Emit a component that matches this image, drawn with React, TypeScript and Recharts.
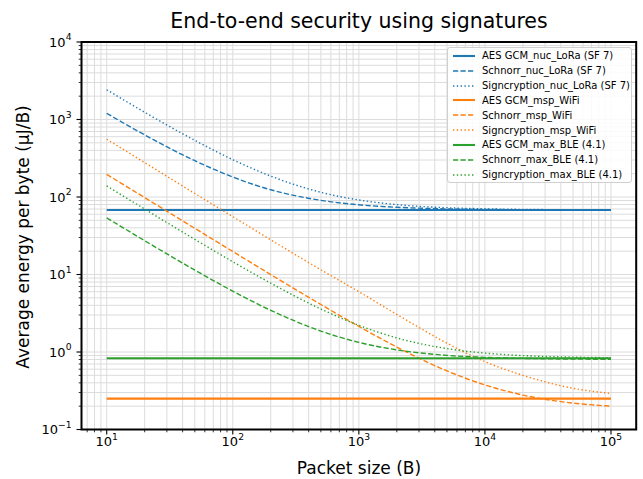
import { LineChart, Line, XAxis, YAxis, CartesianGrid, Legend, ReferenceArea } from 'recharts'

const FONT = '"DejaVu Sans", Verdana, sans-serif'
const BLUE = '#1f77b4'
const ORANGE = '#ff7f0e'
const GREEN = '#2ca02c'

// packet sizes (B) the curves were read at
const packetSizes = [10, 20, 50, 100, 200, 500, 1000, 2000, 5000, 10000, 20000, 50000, 100000]

// average energy per byte (uJ/B)
const aesNucLora = [68, 68, 68, 68, 68, 68, 68, 68, 68, 68, 68, 68, 68]
const schnorrNucLora = [1200, 633, 294, 181, 124, 90.6, 79.3, 73.7, 70.3, 69.1, 68.6, 68.2, 68.1]
const signNucLora = [2420, 1240, 538, 303, 186, 115, 91.5, 79.8, 72.7, 70.4, 69.2, 68.5, 68.2]
const aesMspWifi = [0.25, 0.25, 0.25, 0.25, 0.25, 0.25, 0.25, 0.25, 0.25, 0.25, 0.25, 0.25, 0.25]
const schnorrMspWifi = [196, 98.2, 39.4, 19.8, 9.98, 4.1, 2.14, 1.16, 0.57, 0.376, 0.278, 0.219, 0.2]
const signMspWifi = [556, 278, 111, 55.8, 28.0, 11.5, 6.0, 3.05, 1.3, 0.75, 0.5, 0.34, 0.292]
const aesMaxBle = [0.83, 0.83, 0.83, 0.83, 0.83, 0.83, 0.83, 0.83, 0.83, 0.83, 0.83, 0.83, 0.83]
const schnorrMaxBle = [53.8, 27.3, 11.4, 6.1, 3.45, 1.86, 1.33, 1.065, 0.906, 0.853, 0.827, 0.811, 0.805]
const signMaxBle = [139, 69.8, 28.4, 14.6, 7.73, 3.59, 2.21, 1.52, 1.106, 0.968, 0.899, 0.858, 0.844]

const xTicks = [
  7, 8, 9, 10, 20, 30, 40, 50, 60, 70, 80, 90, 100, 200, 300, 400, 500, 600, 700, 800, 900, 1000,
  2000, 3000, 4000, 5000, 6000, 7000, 8000, 9000, 10000, 20000, 30000, 40000, 50000, 60000, 70000,
  80000, 90000, 100000,
]
const yTicks = [
  0.1, 0.2, 0.3, 0.4, 0.5, 0.6, 0.7, 0.8, 0.9, 1, 2, 3, 4, 5, 6, 7, 8, 9, 10, 20, 30, 40, 50, 60, 70,
  80, 90, 100, 200, 300, 400, 500, 600, 700, 800, 900, 1000, 2000, 3000, 4000, 5000, 6000, 7000, 8000,
  9000, 10000,
]

const X_MIN = Math.pow(10, 0.8)
const X_MAX = Math.pow(10, 5.2)

const series = [
  { key: 'aesNucLora', name: 'AES GCM_nuc_LoRa (SF 7)', color: BLUE, kind: 'solid', values: aesNucLora },
  { key: 'schnorrNucLora', name: 'Schnorr_nuc_LoRa (SF 7)', color: BLUE, kind: 'dashed', values: schnorrNucLora },
  { key: 'signNucLora', name: 'Signcryption_nuc_LoRa (SF 7)', color: BLUE, kind: 'dotted', values: signNucLora },
  { key: 'aesMspWifi', name: 'AES GCM_msp_WiFi', color: ORANGE, kind: 'solid', values: aesMspWifi },
  { key: 'schnorrMspWifi', name: 'Schnorr_msp_WiFi', color: ORANGE, kind: 'dashed', values: schnorrMspWifi },
  { key: 'signMspWifi', name: 'Signcryption_msp_WiFi', color: ORANGE, kind: 'dotted', values: signMspWifi },
  { key: 'aesMaxBle', name: 'AES GCM_max_BLE (4.1)', color: GREEN, kind: 'solid', values: aesMaxBle },
  { key: 'schnorrMaxBle', name: 'Schnorr_max_BLE (4.1)', color: GREEN, kind: 'dashed', values: schnorrMaxBle },
  { key: 'signMaxBle', name: 'Signcryption_max_BLE (4.1)', color: GREEN, kind: 'dotted', values: signMaxBle },
]

const chartData = packetSizes.map((x, i) => {
  const row: Record<string, number> = { x }
  series.forEach((s) => {
    row[s.key] = s.values[i]
  })
  return row
})

function lineStyle(kind: string) {
  if (kind === 'dashed') return { strokeWidth: 1.4, strokeDasharray: '5.2 2.3' }
  if (kind === 'dotted') return { strokeWidth: 1.4, strokeDasharray: '1.4 2.4' }
  return { strokeWidth: 2.1, strokeDasharray: undefined }
}

function isMajor(v: number) {
  const e = Math.log10(v)
  return Math.abs(e - Math.round(e)) < 1e-9
}

function expLabel(v: number) {
  const e = Math.round(Math.log10(v))
  return e < 0 ? '\u2212' + Math.abs(e) : String(e)
}

function XTick(props: any) {
  const { x, y, payload } = props
  const major = isMajor(payload.value)
  return (
    <g>
      <line x1={x} x2={x} y1={y} y2={y + (major ? 5 : 2.8)} stroke="#000" strokeWidth={major ? 1.1 : 0.8} />
      {major && (
        <text x={x} y={y + 16.5} textAnchor="middle" fontSize={13} fontFamily={FONT} fill="#000">
          10
          <tspan dy={-6.5} fontSize={9.2}>
            {expLabel(payload.value)}
          </tspan>
        </text>
      )}
    </g>
  )
}

function YTick(props: any) {
  const { x, y, payload } = props
  const major = isMajor(payload.value)
  return (
    <g>
      <line x1={x} x2={x - (major ? 5 : 2.8)} y1={y} y2={y} stroke="#000" strokeWidth={major ? 1.1 : 0.8} />
      {major && (
        <text x={x - 10} y={y + 4.7} textAnchor="end" fontSize={13} fontFamily={FONT} fill="#000">
          10
          <tspan dy={-6.5} fontSize={9.2}>
            {expLabel(payload.value)}
          </tspan>
        </text>
      )}
    </g>
  )
}

function LegendBox() {
  return (
    <div
      style={{
        boxSizing: 'border-box',
        width: 185,
        border: '1px solid #d0d0d0',
        borderRadius: 3,
        background: 'rgba(255,255,255,0.85)',
        padding: '1px 4px 0 5px',
        fontFamily: FONT,
        fontSize: 10,
        color: '#000',
      }}
    >
      {series.map((s) => {
        const st = lineStyle(s.kind)
        return (
          <div key={s.key} style={{ display: 'flex', alignItems: 'center', height: 14.85, whiteSpace: 'nowrap' }}>
            <svg width={22} height={6} style={{ marginRight: 7, flex: 'none' }}>
              <line
                x1={0}
                y1={3}
                x2={22}
                y2={3}
                stroke={s.color}
                strokeWidth={st.strokeWidth}
                strokeDasharray={st.strokeDasharray}
              />
            </svg>
            <span>{s.name}</span>
          </div>
        )
      })}
    </div>
  )
}

export default function App() {
  return (
    <div style={{ position: 'absolute', left: 0, top: 0, width: 643, height: 479, background: '#fff' }}>
      <LineChart width={643} height={479} data={chartData} margin={{ top: 42, right: 6.8, bottom: 0, left: 0 }}>
        <CartesianGrid stroke="#dcdcdc" strokeWidth={1} />
        <XAxis
          dataKey="x"
          type="number"
          scale="log"
          domain={[X_MIN, X_MAX]}
          allowDataOverflow
          ticks={xTicks}
          interval={0}
          tick={(p: any) => <XTick {...p} />}
          tickLine={false}
          tickSize={0}
          tickMargin={0}
          axisLine={false}
          height={49.5}
        />
        <YAxis
          type="number"
          scale="log"
          domain={[0.1, 10000]}
          allowDataOverflow
          ticks={yTicks}
          interval={0}
          tick={(p: any) => <YTick {...p} />}
          tickLine={false}
          tickSize={0}
          tickMargin={0}
          axisLine={false}
          width={81.5}
        />
        {series.map((s) => {
          const st = lineStyle(s.kind)
          return (
            <Line
              key={s.key}
              type="monotone"
              dataKey={s.key}
              name={s.name}
              stroke={s.color}
              strokeWidth={st.strokeWidth}
              strokeDasharray={st.strokeDasharray}
              dot={false}
              activeDot={false}
              isAnimationActive={false}
            />
          )
        })}
        <ReferenceArea x1={X_MIN} x2={X_MAX} y1={0.1} y2={10000} fill="none" stroke="#000" strokeWidth={2} />
        <Legend
          layout="vertical"
          align="center"
          verticalAlign="middle"
          content={() => <LegendBox />}
          wrapperStyle={{ position: 'absolute', left: 447, top: 46.5, width: 185, height: 'auto' }}
        />
      </LineChart>
      <svg
        width={643}
        height={479}
        style={{ position: 'absolute', left: 0, top: 0, pointerEvents: 'none' }}
        fontFamily={FONT}
      >
        <text x={359} y={28} textAnchor="middle" fontSize={20.5} fill="#000">
          End-to-end security using signatures
        </text>
        <text x={359} y={474} textAnchor="middle" fontSize={17} fill="#000">
          Packet size (B)
        </text>
        <text transform="translate(29,237) rotate(-90)" textAnchor="middle" fontSize={17} fill="#000">
          Average energy per byte (µJ/B)
        </text>
      </svg>
    </div>
  )
}
